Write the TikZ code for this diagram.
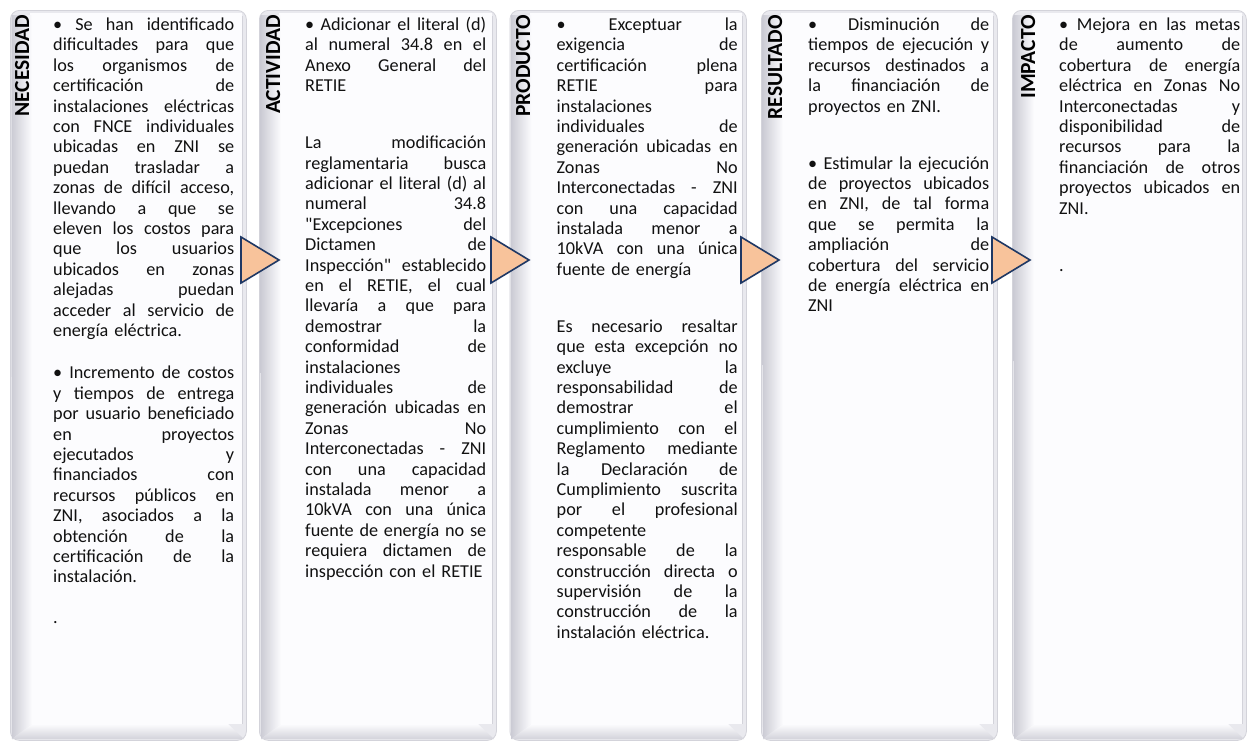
\documentclass[tikz,border=0pt]{standalone}
\usepackage{fontspec}
\setmainfont{Carlito}[Ligatures=TeXOff]
\usetikzlibrary{calc}
\definecolor{arrfill}{HTML}{F8C39B}
\definecolor{arrdraw}{HTML}{1F3864}
\definecolor{panelout}{HTML}{E9E9EE}
\definecolor{panelline}{HTML}{D3D3DA}
\definecolor{paneldark}{HTML}{CBCBD4}
\definecolor{panelface}{HTML}{FCFCFE}
\definecolor{bodytext}{HTML}{111111}
\newcommand\J[1]{\leavevmode\hbox to 181pt{\frenchspacing\spaceskip=0.226em plus 1fil minus 0.08em\relax #1}}
\newcommand\drawpanel[3]{%
  \node[panelnode, minimum width=#2-#1, minimum height=730, anchor=north west] (#3) at (#1,10) {};
  \fill[panelface] (#1+20,13) rectangle (#2-4,724);
  \shade[left color=paneldark, right color=panelface] (#1+1.5,15) -- (#1+22,15) -- (#1+22,724) -- (#1+2,739) -- cycle;
  \shade[top color=panelface, bottom color=paneldark!85] (#1+22,724) -- (#2-18,724) -- (#2-2,739) -- (#1+2,739) -- cycle;
  \draw[panelline, line width=0.8] (#2-4,16) -- (#2-4,724);
}
\newcommand\drawarrow[2]{%
  \draw[arrowtri] (#1-5,237) -- (#1+33,260) -- (#1-5,283) -- cycle;
  \coordinate (#2) at (#1+14,260);
}
\tikzset{
  panelnode/.style={draw=panelline, fill=panelout, rounded corners=9, line width=0.8, inner sep=0},
  arrowtri/.style={fill=arrfill, draw=arrdraw, line width=1.6, line join=miter},
  body/.style={anchor=north west, inner sep=0, text width=181, align=left, text=bodytext,
    font=\fontsize{18.2}{20.4}\selectfont},
  lab/.style={rotate=90, anchor=base east, inner sep=0, text=black,
    font=\fontsize{21.5}{24}\selectfont\bfseries}
}
\begin{document}
\begin{tikzpicture}[x=1pt,y=-1pt]
\useasboundingbox (0,0) rectangle (1248,745);
\fill[white] (0,0) rectangle (1248,745);

\drawpanel{10}{246}{p1}
\drawpanel{259}{496}{p2}
\drawpanel{509.5}{746}{p3}
\drawpanel{761}{997}{p4}
\drawpanel{1012}{1246}{p5}

\node[lab] (l1) at (29,15) {NECESIDAD};
\node[lab] (l2) at (280,15) {ACTIVIDAD};
\node[lab] (l3) at (530,15) {PRODUCTO};
\node[lab] (l4) at (782,15) {RESULTADO};
\node[lab] (l5) at (1035,15) {IMPACTO};

\node[body] (t1) at (53,16) {\strut\J{• Se han identificado}\\
\J{dificultades para que}\\
\J{los organismos de}\\
\J{certificación de}\\
\J{instalaciones eléctricas}\\
\J{con FNCE individuales}\\
\J{ubicadas en ZNI se}\\
\J{puedan trasladar a}\\
\J{zonas de difícil acceso,}\\
\J{llevando a que se}\\
\J{eleven los costos para}\\
\J{que los usuarios}\\
\J{ubicados en zonas}\\
\J{alejadas puedan}\\
\J{acceder al servicio de}\\
energía eléctrica.\\[22pt]
\J{• Incremento de costos}\\
\J{y tiempos de entrega}\\
\J{por usuario beneficiado}\\
\J{en proyectos}\\
\J{ejecutados y}\\
\J{financiados con}\\
\J{recursos públicos en}\\
\J{ZNI, asociados a la}\\
\J{obtención de la}\\
\J{certificación de la}\\
instalación.\\[20pt]
.};

\node[body] (t2) at (305,16) {\strut\J{• Adicionar el literal (d)}\\
\J{al numeral 34.8 en el}\\
\J{Anexo General del}\\
RETIE\\[36.6pt]
\J{La modificación}\\
\J{reglamentaria busca}\\
\J{adicionar el literal (d) al}\\
\J{numeral 34.8}\\
\J{"Excepciones del}\\
\J{Dictamen de}\\
\J{Inspección" establecido}\\
\J{en el RETIE, el cual}\\
\J{llevaría a que para}\\
\J{demostrar la}\\
\J{conformidad de}\\
instalaciones\\
\J{individuales de}\\
\J{generación ubicadas en}\\
\J{Zonas No}\\
\J{Interconectadas - ZNI}\\
\J{con una capacidad}\\
\J{instalada menor a}\\
\J{10kVA con una única}\\
\J{fuente de energía no se}\\
\J{requiera dictamen de}\\
inspección con el RETIE};

\node[body] (t3) at (556.5,16) {\strut\J{• Exceptuar la}\\
\J{exigencia de}\\
\J{certificación plena}\\
\J{RETIE para}\\
instalaciones\\
\J{individuales de}\\
\J{generación ubicadas en}\\
\J{Zonas No}\\
\J{Interconectadas - ZNI}\\
\J{con una capacidad}\\
\J{instalada menor a}\\
\J{10kVA con una única}\\
fuente de energía\\[36.6pt]
\J{Es necesario resaltar}\\
\J{que esta excepción no}\\
\J{excluye la}\\
\J{responsabilidad de}\\
\J{demostrar el}\\
\J{cumplimiento con el}\\
\J{Reglamento mediante}\\
\J{la Declaración de}\\
\J{Cumplimiento suscrita}\\
\J{por el profesional}\\
competente\\
\J{responsable de la}\\
\J{construcción directa o}\\
\J{supervisión de la}\\
\J{construcción de la}\\
instalación eléctrica.};

\node[body] (t4) at (808,16) {\strut\J{• Disminución de}\\
\J{tiempos de ejecución y}\\
\J{recursos destinados a}\\
\J{la financiación de}\\
proyectos en ZNI.\\[36.6pt]
\J{• Estimular la ejecución}\\
\J{de proyectos ubicados}\\
\J{en ZNI, de tal forma}\\
\J{que se permita la}\\
\J{ampliación de}\\
\J{cobertura del servicio}\\
\J{de energía eléctrica en}\\
ZNI};

\node[body] (t5) at (1059,16) {\strut\J{• Mejora en las metas}\\
\J{de aumento de}\\
\J{cobertura de energía}\\
\J{eléctrica en Zonas No}\\
\J{Interconectadas y}\\
\J{disponibilidad de}\\
\J{recursos para la}\\
\J{financiación de otros}\\
\J{proyectos ubicados en}\\
ZNI.\\[36.6pt]
.};

\drawarrow{246}{a1}
\drawarrow{496}{a2}
\drawarrow{746}{a3}
\drawarrow{997}{a4}
\end{tikzpicture}
\end{document}
